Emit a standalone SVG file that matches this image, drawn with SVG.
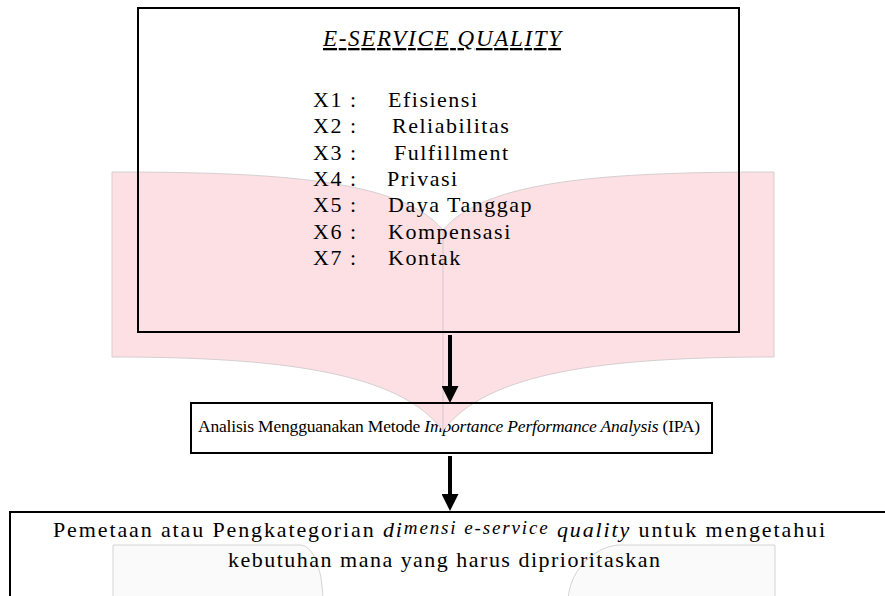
<svg xmlns="http://www.w3.org/2000/svg" width="885" height="596" viewBox="0 0 885 596">
<style>
  .t{font-family:"Liberation Serif","Times New Roman",serif;fill:#000}
  .it{font-style:italic}
  .box{fill:none;stroke:#000;stroke-width:2}
  .list{font-size:22px;letter-spacing:1.5px}
  .conn{stroke:#000;stroke-width:4;fill:none}
  .ghost{fill:#fafafa;stroke:#d4d4d4;stroke-width:1}
</style>
<defs>
  <marker id="ah" markerUnits="userSpaceOnUse" markerWidth="17" markerHeight="17" viewBox="0 0 17 17" refX="0" refY="8.5" orient="auto">
    <path d="M0,0 L17,8.5 L0,17 Z" fill="#000"/>
  </marker>
  <clipPath id="outsideBanner">
    <path clip-rule="evenodd" d="M0,0 H885 V596 H0 Z M112,172 C280,172 401,180 443,230 C485,180 606,172 774,172 L774,357 C606,357 486,372 443,431 C400,372 280,357 112,357 Z"/>
  </clipPath>
</defs>

<!-- faint background shapes near bottom -->
<g id="decor-bottom">
  <path class="ghost" d="M113,600 V545 H300 C312,545 322,565 323,600"/>
  <path class="ghost" d="M775,600 V545 H620 C600,545 570,565 568,600"/>
</g>

<!-- pink banner behind the top box -->
<g id="decor-banner">
  <path d="M112,172 C280,172 401,180 443,230 C485,180 606,172 774,172 L774,357 C606,357 486,372 443,431 C400,372 280,357 112,357 Z" fill="#fde0e3" stroke="#d6cfd0" stroke-width="1"/>
  <line x1="443" y1="230" x2="443" y2="431" stroke="#d2c8ca" stroke-width="1"/>
</g>

<g id="node-eservice">
  <rect class="box" x="138" y="8" width="601" height="324"/>
  <text class="t it" x="323" y="46" font-size="23" textLength="238" lengthAdjust="spacing" text-decoration="underline">E-SERVICE QUALITY</text>
  <g class="t list">
    <text x="313" y="107">X1 :</text><text x="388" y="107">Efisiensi</text>
    <text x="313" y="133">X2 :</text><text x="392" y="133">Reliabilitas</text>
    <text x="313" y="160">X3 :</text><text x="394" y="160">Fulfillment</text>
    <text x="313" y="186">X4 :</text><text x="387" y="186">Privasi</text>
    <text x="313" y="212">X5 :</text><text x="388" y="212">Daya Tanggap</text>
    <text x="313" y="239">X6 :</text><text x="388" y="239">Kompensasi</text>
    <text x="313" y="265">X7 :</text><text x="388" y="265">Kontak</text>
  </g>
</g>

<g id="node-ipa">
  <rect class="box" x="191" y="403" width="521" height="50"/>
  <text class="t" x="198" y="432" font-size="17.5" textLength="502" lengthAdjust="spacing" clip-path="url(#outsideBanner)">Analisis Mengguanakan Metode <tspan class="it">Importance Performance Analysis</tspan> (IPA)</text>
</g>

<g id="node-mapping">
  <path class="box" d="M10,600 V512 H890"/>
  <text class="t" x="53" y="537" font-size="22" textLength="772" lengthAdjust="spacing">Pemetaan atau Pengkategorian <tspan class="it">di</tspan><tspan class="it" font-size="19" dy="-3">mensi e-service</tspan><tspan class="it" dy="3"> quality</tspan> untuk mengetahui</text>
  <text class="t" x="228" y="567" font-size="22" textLength="432" lengthAdjust="spacing">kebutuhan mana yang harus diprioritaskan</text>
</g>

<g id="connectors">
  <line class="conn" x1="450" y1="335" x2="450" y2="386" marker-end="url(#ah)"/>
  <line class="conn" x1="450" y1="456" x2="450" y2="494" marker-end="url(#ah)"/>
</g>
</svg>
